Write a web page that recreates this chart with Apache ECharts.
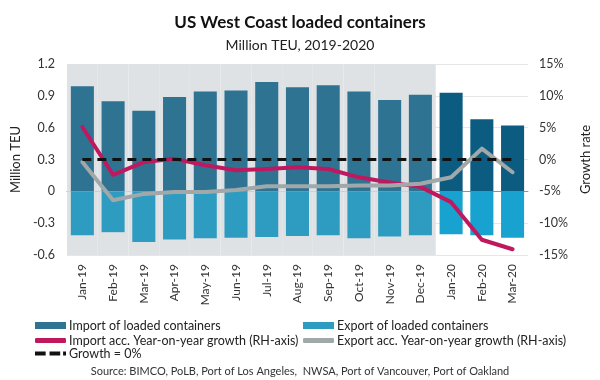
<!DOCTYPE html>
<html>
<head>
<meta charset="utf-8">
<script src="https://cdn.jsdelivr.net/npm/echarts@6/dist/echarts.min.js"></script>
<style>html,body{margin:0;padding:0;background:#fff}#c{width:600px;height:380px}</style>
</head>
<body>
<div id="c"></div>
<script>
const categories = ['Jan-19','Feb-19','Mar-19','Apr-19','May-19','Jun-19','Jul-19','Aug-19','Sep-19','Oct-19','Nov-19','Dec-19','Jan-20','Feb-20','Mar-20'];
const importTEU = [0.99,0.85,0.76,0.89,0.94,0.95,1.03,0.98,1.0,0.94,0.86,0.91,0.93,0.68,0.62];
const exportTEU = [-0.415,-0.385,-0.478,-0.453,-0.443,-0.437,-0.43,-0.42,-0.415,-0.443,-0.425,-0.415,-0.405,-0.415,-0.437];
const importGrowth = [5.1,-2.4,-0.4,0.1,-0.9,-1.7,-1.5,-1.2,-1.5,-2.8,-3.6,-4.3,-6.7,-12.6,-14.1];
const exportGrowth = [-0.4,-6.4,-5.4,-5.1,-5.1,-4.8,-4.2,-4.2,-4.2,-4.1,-4.1,-3.8,-2.8,1.7,-2.0];
const zeroGrowth = [0,0,0,0,0,0,0,0,0,0,0,0,0,0,0];
const shadedMonths = ['Jan-19','Feb-19','Mar-19','Apr-19','May-19','Jun-19','Jul-19','Aug-19','Sep-19','Oct-19','Nov-19','Dec-19'];
const leftTicks = {min:-0.6, max:1.2, interval:0.3};
const rightTicks = {min:-15, max:15, interval:5};

const FONT = 'Lato';
const C = {
  imp19:'#2f7393', imp20:'#0b5c80', exp19:'#2e9cc0', exp20:'#17a2cf',
  impG:'#c0185f', expG:'#a0a8aa', zero:'#111111', shade:'#dfe2e4'
};
const is2020 = i => i >= shadedMonths.length;

const shadeTop = categories.map(c => shadedMonths.includes(c) ? leftTicks.max : null);
const shadeBottom = categories.map(c => shadedMonths.includes(c) ? leftTicks.min : null);

const chart = echarts.init(document.getElementById('c'), null, {renderer:'canvas'});
const legendBase = {
  orient:'horizontal', itemGap:0, padding:0,
  textStyle:{fontFamily:FONT, fontSize:12.5, color:'#222', padding:[0,0,0,-2]},
  itemWidth:31, itemHeight:7, selectedMode:false
};
chart.setOption({
  animation:false,
  textStyle:{fontFamily:FONT},
  title:[
    {text:'US West Coast loaded containers', left:'center', top:9,
     textStyle:{fontFamily:FONT, fontSize:17, fontWeight:'bold', color:'#111'}},
    {text:'Million TEU, 2019-2020', left:'center', top:33,
     textStyle:{fontFamily:FONT, fontSize:14, fontWeight:'normal', color:'#222'}},
    {text:'Source: BIMCO, PoLB, Port of Los Angeles,  NWSA, Port of Vancouver, Port of Oakland', left:'center', top:361,
     textStyle:{fontFamily:FONT, fontSize:11, fontWeight:'normal', color:'#333'}}
  ],
  legend:[
    Object.assign({}, legendBase, {left:35, top:319, data:[{name:'Import of loaded containers', icon:'rect', itemStyle:{color:C.imp19}}]}),
    Object.assign({}, legendBase, {left:303, top:319, data:[{name:'Export of loaded containers', icon:'rect', itemStyle:{color:C.exp19}}]}),
    Object.assign({}, legendBase, {left:35, top:334, itemHeight:5, data:[{name:'Import acc. Year-on-year growth (RH-axis)', icon:'roundRect'}]}),
    Object.assign({}, legendBase, {left:303, top:334, itemHeight:5, data:[{name:'Export acc. Year-on-year growth (RH-axis)', icon:'roundRect'}]}),
    Object.assign({}, legendBase, {left:35, top:347, itemHeight:4, data:[{name:'Growth = 0%', icon:'path://M0,0h11v4h-11z M15,0h11v4h-11z M29,0h3v4h-3z', itemStyle:{color:C.zero}}]})
  ],
  grid:{left:67, right:72, top:64, bottom:125},
  xAxis:[
    {type:'category', data:categories, boundaryGap:true,
     axisLine:{show:true, onZero:true, onZeroAxisIndex:0, lineStyle:{color:'#8a979c', width:1}},
     axisTick:{show:false},
     axisLabel:{rotate:90, fontFamily:FONT, fontSize:12, color:'#333', margin:9, interval:0}},
    {type:'category', data:categories, show:false, boundaryGap:true}
  ],
  yAxis:[
    {type:'value', min:leftTicks.min, max:leftTicks.max, interval:leftTicks.interval,
     name:'Million TEU', nameLocation:'middle', nameGap:44,
     nameTextStyle:{fontFamily:FONT, fontSize:13, color:'#222'},
     axisLine:{show:false}, axisTick:{show:false},
     axisLabel:{fontFamily:FONT, fontSize:12.5, color:'#333', margin:12,
       formatter:v => String(+v.toFixed(1))},
     splitLine:{show:true, lineStyle:{color:'#e6e6e6', width:1}}},
    {type:'value', min:rightTicks.min, max:rightTicks.max, interval:rightTicks.interval,
     name:'Growth rate', nameLocation:'middle', nameGap:47,
     nameTextStyle:{fontFamily:FONT, fontSize:13, color:'#222'},
     axisLine:{show:false}, axisTick:{show:false},
     axisLabel:{fontFamily:FONT, fontSize:12.5, color:'#333', margin:11,
       formatter:v => Math.round(v) + '%'},
     splitLine:{show:false}}
  ],
  series:[
    {name:'shadeTop', type:'bar', xAxisIndex:1, yAxisIndex:0, data:shadeTop, stack:'shade',
     barWidth:'100%', itemStyle:{color:C.shade}, z:0, silent:true, legendHoverLink:false},
    {name:'shadeBottom', type:'bar', xAxisIndex:1, yAxisIndex:0, data:shadeBottom, stack:'shade',
     barWidth:'100%', itemStyle:{color:C.shade}, z:0, silent:true, legendHoverLink:false},
    {name:'Import of loaded containers', type:'bar', xAxisIndex:0, yAxisIndex:0, data:importTEU,
     stack:'teu', barWidth:'75%', z:2,
     itemStyle:{color:p => is2020(p.dataIndex) ? C.imp20 : C.imp19}},
    {name:'Export of loaded containers', type:'bar', xAxisIndex:0, yAxisIndex:0, data:exportTEU,
     stack:'teu', barWidth:'75%', z:2,
     itemStyle:{color:p => is2020(p.dataIndex) ? C.exp20 : C.exp19}},
    {name:'Import acc. Year-on-year growth (RH-axis)', type:'line', xAxisIndex:0, yAxisIndex:1, data:importGrowth,
     symbol:'none', z:4, itemStyle:{color:C.impG},
     lineStyle:{color:C.impG, width:4, cap:'round', join:'round'}},
    {name:'Export acc. Year-on-year growth (RH-axis)', type:'line', xAxisIndex:0, yAxisIndex:1, data:exportGrowth,
     symbol:'none', z:4, itemStyle:{color:C.expG},
     lineStyle:{color:C.expG, width:4, cap:'round', join:'round'}},
    {name:'Growth = 0%', type:'line', xAxisIndex:0, yAxisIndex:1, data:zeroGrowth,
     symbol:'none', z:5, itemStyle:{color:C.zero},
     lineStyle:{color:C.zero, width:3, type:[9,6]}}
  ]
});
</script>
</body>
</html>
